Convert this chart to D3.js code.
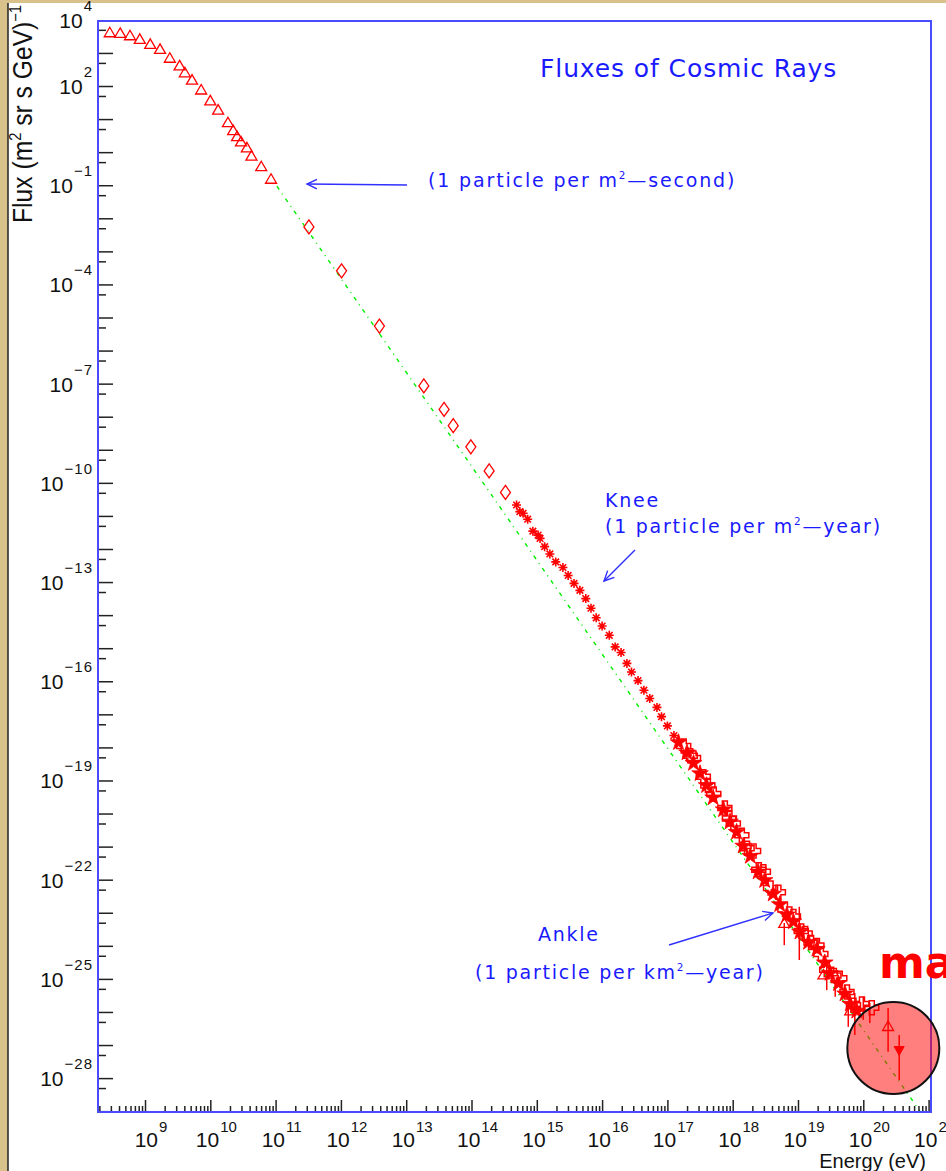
<!DOCTYPE html>
<html>
<head>
<meta charset="utf-8">
<script src="https://cdn.jsdelivr.net/npm/d3@7"></script>
<style>
  body { margin: 0; background: #d9c18c; }
  svg { display: block; }
</style>
</head>
<body>
<svg></svg>
<script>
// values are log10(E / eV) and log10(flux)

// low energy: open triangles
const triLogE = [8.46, 8.62, 8.77, 8.92, 9.08, 9.23, 9.38, 9.53, 9.61, 9.72, 9.86, 10.00, 10.12, 10.27, 10.35, 10.41, 10.47, 10.56, 10.63, 10.78, 10.93];
const triLogF = [3.61, 3.59, 3.52, 3.41, 3.26, 3.11, 2.84, 2.61, 2.40, 2.18, 1.88, 1.55, 1.27, 0.89, 0.65, 0.47, 0.31, 0.13, -0.12, -0.44, -0.82];

// open diamonds
const diaLogE = [11.51, 12.01, 12.59, 13.27, 13.58, 13.72, 13.99, 14.27, 14.52];
const diaLogF = [-2.26, -3.59, -5.26, -7.07, -7.78, -8.27, -8.91, -9.64, -10.29];

// asterisks around the knee
const astLogE = [14.69, 14.74, 14.79, 14.86, 14.94, 15.02, 15.05, 15.12, 15.20, 15.29, 15.40, 15.48, 15.57, 15.66, 15.75, 15.83, 15.91, 16.00, 16.11, 16.20, 16.29, 16.38, 16.45, 16.55, 16.64, 16.73, 16.84, 16.91, 17.00, 17.10];
const astLogF = [-10.67, -10.87, -10.92, -11.10, -11.46, -11.58, -11.68, -11.93, -12.15, -12.39, -12.56, -12.80, -13.04, -13.25, -13.50, -13.79, -14.08, -14.33, -14.61, -14.96, -15.13, -15.46, -15.72, -15.98, -16.27, -16.52, -16.79, -17.07, -17.35, -17.64];

// filled stars, above 1e17 eV
const starLogE = [17.17, 17.30, 17.40, 17.50, 17.60, 17.70, 17.86, 17.96, 18.06, 18.16, 18.27, 18.39, 18.49, 18.62, 18.72, 18.83, 18.93, 19.03, 19.16, 19.29, 19.41, 19.49, 19.62, 19.72, 19.80, 19.90];
const starLogF = [-17.85, -18.16, -18.48, -18.79, -19.15, -19.52, -19.88, -20.25, -20.56, -20.98, -21.29, -21.76, -22.02, -22.43, -22.75, -23.06, -23.27, -23.58, -23.89, -24.10, -24.51, -24.83, -25.14, -25.45, -25.76, -25.97];

// open crosses (upper edge of the band)
const crossLogE = [17.25, 17.40, 17.55, 17.71, 17.88, 18.01, 18.14, 18.32, 18.47, 18.70, 18.93, 19.11, 19.29, 19.44, 19.64, 19.75, 19.98, 20.13];
const crossLogF = [-17.96, -18.32, -18.89, -19.41, -19.83, -20.30, -20.66, -21.13, -21.76, -22.38, -23.11, -23.63, -23.99, -24.72, -24.98, -25.40, -25.76, -25.87];

// open crosses (inside the band)
const cross2LogE = [17.35, 17.62, 17.95, 18.22, 18.40, 18.58, 18.80, 19.05, 19.20, 19.35, 19.55, 19.85];
const cross2LogF = [-18.25, -19.15, -20.15, -21.05, -21.70, -22.25, -22.90, -23.55, -23.90, -24.25, -24.90, -25.80];

// open triangles near the ankle and above
const hiTriLogE = [18.79, 19.39, 19.80, 20.38];
const hiTriLogF = [-23.32, -24.88, -25.97, -26.44];

// filled downward triangle
const downLogE = [20.55];
const downLogF = [-27.15];

// error bars: energy, low, high
const errLogE = [18.79, 19.02, 19.44, 19.57, 19.77, 19.87, 20.00, 20.10, 20.38, 20.55];
const errLo = [-23.98, -24.43, -25.34, -25.54, -26.45, -26.70, -26.24, -26.33, -27.20, -28.06];
const errHi = [-23.31, -22.82, -24.43, -25.03, -25.84, -25.43, -25.54, -25.73, -25.88, -26.70];

// green power-law line, end points
const fitLogE = [11.02, 21.0];
const fitLogF = [-1.03, -29.38];

// axis labels
const yLabelExp = [4, 2, -1, -4, -7, -10, -13, -16, -19, -22, -25, -28];
const xLabelExp = d3.range(9, 22);

// highlighted region (circle)
const hlLogE = 20.46, hlLogF = -27.09;

const W = 946, H = 1171;
const pow = v => Math.pow(10, v);

const svg = d3.select("svg").attr("width", W).attr("height", H);

const frame = { left: 98, right: 931, top: 21, bottom: 1112 };

const x = d3.scaleLog().domain([pow(8.28), pow(21.037)]).range([frame.left, frame.right]);
const y = d3.scaleLog().domain([pow(-29.025), pow(3.966)]).range([frame.bottom, frame.top]);

// page
svg.append("rect").attr("width", W).attr("height", H).attr("fill", "#d9c18c");
svg.append("rect").attr("x", 8).attr("y", 3).attr("width", W - 8).attr("height", H - 3).attr("fill", "#fff");
svg.append("line").attr("x1", 8).attr("x2", 8).attr("y1", 3).attr("y2", H)
  .attr("stroke", "#222").attr("stroke-width", 1.5);

svg.append("clipPath").attr("id", "plot")
  .append("rect").attr("x", frame.left).attr("y", frame.top)
  .attr("width", frame.right - frame.left).attr("height", frame.bottom - frame.top);

const plot = svg.append("g").attr("clip-path", "url(#plot)");

// green fit line
plot.append("path")
  .datum(fitLogE.map((e, i) => [pow(e), pow(fitLogF[i])]))
  .attr("d", d3.line().x(d => x(d[0])).y(d => y(d[1])))
  .attr("fill", "none")
  .attr("stroke", "#00ee00")
  .attr("stroke-width", 1.4)
  .attr("stroke-dasharray", "4,5,1,5");

const red = "#ff0000";
const pts = (es, fs) => es.map((e, i) => ({ E: pow(e), F: pow(fs[i]) }));
const at = d => `translate(${x(d.E)},${y(d.F)})`;

// error bars
plot.selectAll(".err")
  .data(errLogE.map((e, i) => ({ E: pow(e), lo: pow(errLo[i]), hi: pow(errHi[i]) })))
  .enter().append("line")
  .attr("x1", d => x(d.E)).attr("x2", d => x(d.E))
  .attr("y1", d => y(d.lo)).attr("y2", d => y(d.hi))
  .attr("stroke", red).attr("stroke-width", 1.5);

const triPath = "M0,-5.5L5.5,4L-5.5,4Z";
const diaPath = "M0,-7L5,0L0,7L-5,0Z";
const astPath = "M-4.5,0H4.5M0,-4.5V4.5M-3.3,-3.3L3.3,3.3M-3.3,3.3L3.3,-3.3";
const crossPath = "M-2.5,-7H2.5V-2.5H7V2.5H2.5V7H-2.5V2.5H-7V-2.5H-2.5Z";
const downPath = "M0,5.5L5,-3.5L-5,-3.5Z";

function markers(data, path, filled, sw) {
  plot.append("g").selectAll("path")
    .data(data).enter().append("path")
    .attr("transform", at)
    .attr("d", path)
    .attr("fill", filled ? red : "none")
    .attr("stroke", red)
    .attr("stroke-width", sw);
}

markers(pts(triLogE, triLogF), triPath, false, 1.3);
markers(pts(diaLogE, diaLogF), diaPath, false, 1.3);
markers(pts(astLogE, astLogF), astPath, false, 1.6);
markers(pts(crossLogE, crossLogF), crossPath, false, 1.5);
markers(pts(cross2LogE, cross2LogF), crossPath, false, 1.5);
markers(pts(starLogE, starLogF), d3.symbol(d3.symbolStar, 85)(), true, 0.8);
markers(pts(hiTriLogE, hiTriLogF), triPath, false, 1.3);
markers(pts(downLogE, downLogF), downPath, true, 1);

// axes
const tickColor = "#222";
const yMajor = d3.range(-29, 4).map(pow);
const yMinor = d3.range(-29, 4).map(n => 5 * pow(n));

function styleAxis(g) {
  g.select(".domain").remove();
  g.selectAll(".tick line").attr("stroke", tickColor).attr("stroke-width", 1.5);
  g.selectAll(".tick text").remove();
}

svg.append("g").attr("transform", `translate(${frame.left},0)`)
  .call(d3.axisRight(y).tickValues(yMajor).tickSize(15).tickFormat(""))
  .call(styleAxis);
svg.append("g").attr("transform", `translate(${frame.left},0)`)
  .call(d3.axisRight(y).tickValues(yMinor).tickSize(8).tickFormat(""))
  .call(styleAxis);

const xMajor = d3.range(9, 22).map(pow);
const xMinor = [];
d3.range(8, 21).forEach(n => d3.range(2, 10).forEach(k => {
  const v = k * pow(n);
  if (v > x.domain()[0] && v < x.domain()[1]) xMinor.push(v);
}));

svg.append("g").attr("transform", `translate(0,${frame.bottom})`)
  .call(d3.axisTop(x).tickValues(xMajor).tickSize(12).tickFormat(""))
  .call(styleAxis);
svg.append("g").attr("transform", `translate(0,${frame.bottom})`)
  .call(d3.axisTop(x).tickValues(xMinor).tickSize(6).tickFormat(""))
  .call(styleAxis);

// frame
svg.append("rect")
  .attr("x", frame.left).attr("y", frame.top)
  .attr("width", frame.right - frame.left).attr("height", frame.bottom - frame.top)
  .attr("fill", "none").attr("stroke", "#4a4aff").attr("stroke-width", 2);

// tick labels
const axisFont = "'Liberation Sans', Arial, sans-serif";
const expText = n => (n < 0 ? "\u2212" + Math.abs(n) : String(n));

yLabelExp.forEach(n => {
  const t = svg.append("text")
    .attr("x", 93).attr("y", y(pow(n)) + 8)
    .attr("text-anchor", "end")
    .attr("font-family", axisFont).attr("fill", "#111");
  t.append("tspan").attr("font-size", 21).text("10");
  t.append("tspan").attr("font-size", 15).attr("letter-spacing", 1)
    .attr("dy", -17).attr("dx", 1).text(expText(n));
});

xLabelExp.forEach(n => {
  const t = svg.append("text")
    .attr("x", x(pow(n)) + 6).attr("y", 1147)
    .attr("text-anchor", "middle")
    .attr("font-family", axisFont).attr("fill", "#111");
  t.append("tspan").attr("font-size", 21).text("10");
  t.append("tspan").attr("font-size", 15).attr("dy", -15).attr("dx", 1).text(expText(n));
});

svg.append("text")
  .attr("x", 926).attr("y", 1168)
  .attr("text-anchor", "end")
  .attr("font-family", axisFont).attr("font-size", 20).attr("fill", "#111")
  .text("Energy (eV)");

// y axis title (rotated)
const yt = svg.append("text")
  .attr("transform", "translate(32,223) rotate(-90)")
  .attr("font-family", axisFont).attr("font-size", 27).attr("fill", "#111")
  .attr("textLength", 218).attr("lengthAdjust", "spacingAndGlyphs");
yt.append("tspan").text("Flux (m");
yt.append("tspan").attr("font-size", 16).attr("dy", -11).text("2");
yt.append("tspan").attr("dy", 11).text(" sr s GeV)");
yt.append("tspan").attr("font-size", 16).attr("dy", -11).text("\u22121");

// annotations
const blue = "#1a1aff";
const annFont = "'DejaVu Sans', Verdana, sans-serif";

// parts: plain strings, or ["2"] arrays for a superscript
function annot(px, py, parts, size, spacing) {
  const t = svg.append("text")
    .attr("x", px).attr("y", py)
    .attr("font-family", annFont).attr("font-size", size)
    .attr("letter-spacing", spacing)
    .attr("fill", blue);
  let raised = false;
  parts.forEach(p => {
    if (Array.isArray(p)) {
      t.append("tspan").attr("font-size", size * 0.55).attr("dy", -8).text(p[0]);
      raised = true;
    } else {
      t.append("tspan").attr("dy", raised ? 8 : 0).text(p);
      raised = false;
    }
  });
}

annot(540, 77, ["Fluxes of Cosmic Rays"], 25, 0.9);
annot(428, 187, ["(1 particle per m", ["2"], "\u2014second)"], 19, 1.85);
annot(605, 507, ["Knee"], 19, 1.75);
annot(605, 533, ["(1 particle per m", ["2"], "\u2014year)"], 19, 1.75);
annot(538, 941, ["Ankle"], 19, 1.75);
annot(475, 979, ["(1 particle per km", ["2"], "\u2014year)"], 19, 1.75);

function arrow(x1, y1, x2, y2) {
  svg.append("line")
    .attr("x1", x1).attr("y1", y1).attr("x2", x2).attr("y2", y2)
    .attr("stroke", "#3030ff").attr("stroke-width", 1.4);
  const a = Math.atan2(y1 - y2, x1 - x2);
  const len = 11, spread = 0.45;
  const p1 = [x2 + len * Math.cos(a + spread), y2 + len * Math.sin(a + spread)];
  const p2 = [x2 + len * Math.cos(a - spread), y2 + len * Math.sin(a - spread)];
  svg.append("path")
    .attr("d", `M${p1[0]},${p1[1]}L${x2},${y2}L${p2[0]},${p2[1]}`)
    .attr("fill", "none").attr("stroke", "#3030ff").attr("stroke-width", 1.4);
}

arrow(407, 185, 307, 184);
arrow(635, 550, 604, 581);
arrow(669, 945, 773, 913);

// highlight circle
svg.append("circle")
  .attr("cx", x(pow(hlLogE))).attr("cy", y(pow(hlLogF))).attr("r", 46)
  .attr("fill", "rgba(255,0,0,0.5)")
  .attr("stroke", "#111").attr("stroke-width", 2);

svg.append("text")
  .attr("x", 879).attr("y", 978)
  .attr("font-family", annFont).attr("font-weight", "bold").attr("font-size", 44)
  .attr("fill", red)
  .text("ma");
</script>
</body>
</html>
